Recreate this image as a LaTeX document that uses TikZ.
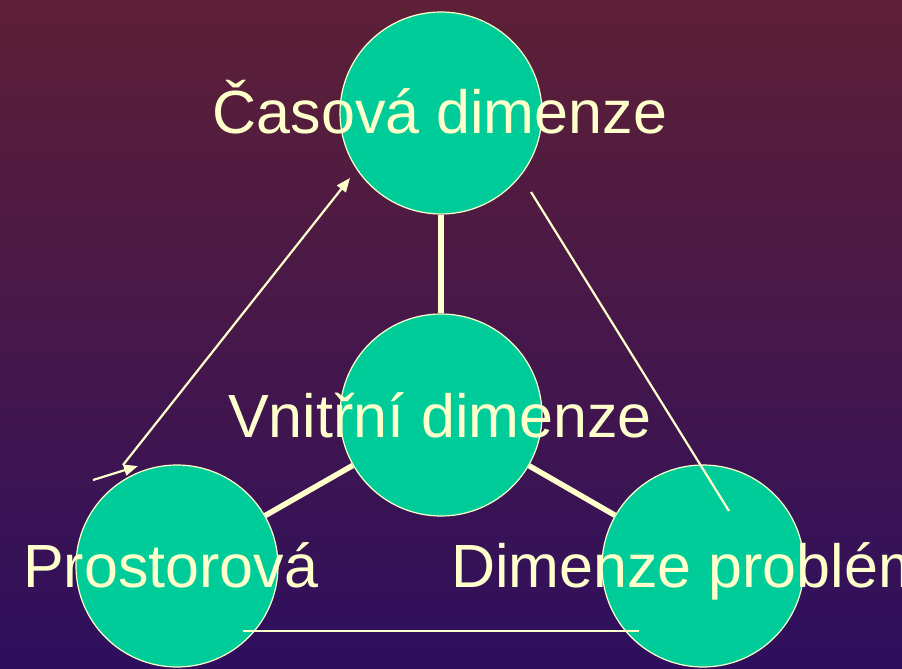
\documentclass[tikz,border=0pt]{standalone}
\usepackage{fontspec}
\setmainfont{Liberation Sans}
\usetikzlibrary{arrows.meta}
\definecolor{bgtop}{HTML}{5E2036}
\definecolor{bgbot}{HTML}{2E0F5E}
\definecolor{disc}{HTML}{00CC99}
\definecolor{cream}{HTML}{FFFFCC}
\begin{document}
\begin{tikzpicture}[x=1pt,y=-1pt,
  dimdisc/.style={circle,fill=disc,draw=cream,line width=1.2pt,minimum size=202pt,inner sep=0pt},
  dimlabel/.style={text=cream,font=\fontsize{61}{73}\selectfont,inner sep=0pt,anchor=base},
  thickline/.style={draw=cream,line width=5.5pt},
  thinline/.style={draw=cream,line width=2.2pt},
  thinarrow/.style={draw=cream,line width=2.2pt,-{Triangle[length=14pt,width=11pt]}}]
\useasboundingbox (0,0) rectangle (902,669);
\clip (0,0) rectangle (902,669);
\shade[top color=bgtop,bottom color=bgbot] (0,0) rectangle (902,669);
% discs
\node[dimdisc] (top) at (441,113) {};
\node[dimdisc] (mid) at (441,415) {};
\node[dimdisc] (lft) at (177,566) {};
\node[dimdisc] (rgt) at (703,566) {};
% thick connectors
\draw[thickline] (top) -- (mid);
\draw[thickline] (mid) -- (lft);
\draw[thickline] (mid) -- (rgt);
% free-end coordinates
\coordinate (a1s) at (123,465);
\coordinate (a1e) at (350,178);
\coordinate (a2s) at (93,480);
\coordinate (a2e) at (138,466);
\coordinate (l1s) at (531,192);
\coordinate (l1e) at (729,511);
\coordinate (l2s) at (243,631);
\coordinate (l2e) at (639,631);
\draw[thinarrow] (a1s) -- (a1e);
\draw[thinarrow] (a2s) -- (a2e);
\draw[thinline] (l1s) -- (l1e);
\draw[thinline,line width=2.6pt] (l2s) -- (l2e);
% labels
\node[dimlabel] (tcas) at (440,133) {Časová dimenze};
\node[dimlabel] (tvni) at (440,437) {Vnitřní dimenze};
\node[dimlabel,anchor=base west] (tpro) at (23,587) {Prostorová};
\node[dimlabel,anchor=base west] (tdim) at (451,587) {Dimenze problému};
\end{tikzpicture}
\end{document}
